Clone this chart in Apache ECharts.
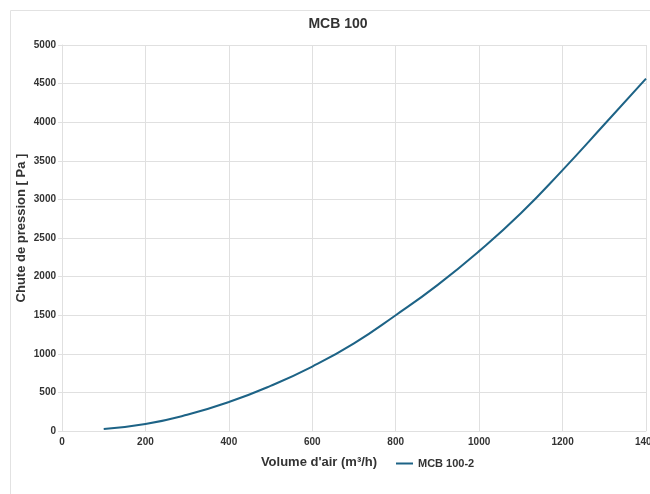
<!DOCTYPE html>
<html>
<head>
<meta charset="utf-8">
<script src="https://cdn.jsdelivr.net/npm/echarts@6/dist/echarts.min.js"></script>
<style>
html,body{margin:0;padding:0;background:#fff;}
#chart{width:650px;height:494px;}
</style>
</head>
<body>
<div id="chart"></div>
<script>
const chartTitle = "MCB 100";
const seriesName = "MCB 100-2";
const xAxisName = "Volume d'air (m³/h)";
const yAxisName = "Chute de pression [ Pa ]";
const airVolume = [100, 200, 300, 400, 500, 600, 700, 800, 900, 1000, 1100, 1200, 1300, 1400];
const pressureDrop = [25, 90, 210, 375, 585, 835, 1135, 1500, 1890, 2330, 2820, 3380, 3970, 4565];

const chart = echarts.init(document.getElementById('chart'), null, {renderer: 'canvas'});
const lineColor = '#1d6386';
const fontFam = 'Liberation Sans, Arial, sans-serif';
const labelFont = {color: '#333', fontWeight: 'bold', fontSize: 10, fontFamily: fontFam};

chart.setOption({
  animation: false,
  backgroundColor: '#fff',
  graphic: [
    {type: 'rect', left: 8, top: 8, shape: {width: 720, height: 620}, style: {fill: 'none', stroke: '#e2e2e2', lineWidth: 1}, silent: true},
    {type: 'text', x: 338, y: 24, style: {text: chartTitle, fill: '#333', font: 'bold 14px ' + fontFam, align: 'center', verticalAlign: 'middle'}},
    {type: 'text', x: 319, y: 462, style: {text: xAxisName, fill: '#333', font: 'bold 13px ' + fontFam, align: 'center', verticalAlign: 'middle'}},
    {type: 'text', x: 21.5, y: 228, rotation: Math.PI / 2, style: {text: yAxisName, fill: '#333', font: 'bold 13px ' + fontFam, align: 'center', verticalAlign: 'middle'}}
  ],
  legend: {
    left: 391, top: 453, icon: 'rect', itemWidth: 17, itemHeight: 2, itemGap: 4,
    textStyle: {color: '#333', fontWeight: 'bold', fontSize: 11, fontFamily: fontFam},
    data: [seriesName]
  },
  grid: {left: 62, right: 4, top: 45, bottom: 63, containLabel: false, outerBoundsMode: 'none'},
  xAxis: {
    type: 'value', min: 0, max: 1400, interval: 200,
    axisLine: {show: true, lineStyle: {color: '#e0e0e0'}},
    axisTick: {show: false},
    axisLabel: Object.assign({margin: 6, formatter: v => String(v)}, labelFont),
    splitLine: {show: true, lineStyle: {color: '#e0e0e0', width: 1}}
  },
  yAxis: {
    type: 'value', min: 0, max: 5000, interval: 500,
    axisLine: {show: true, lineStyle: {color: '#e0e0e0'}},
    axisTick: {show: true, length: 4, lineStyle: {color: '#e0e0e0'}},
    axisLabel: Object.assign({margin: 6, formatter: v => String(v)}, labelFont),
    splitLine: {show: true, lineStyle: {color: '#e0e0e0', width: 1}}
  },
  series: [{
    name: seriesName, type: 'line', smooth: true, symbol: 'none',
    data: airVolume.map((v, i) => [v, pressureDrop[i]]),
    lineStyle: {color: lineColor, width: 2},
    itemStyle: {color: lineColor}
  }]
});
</script>
</body>
</html>
